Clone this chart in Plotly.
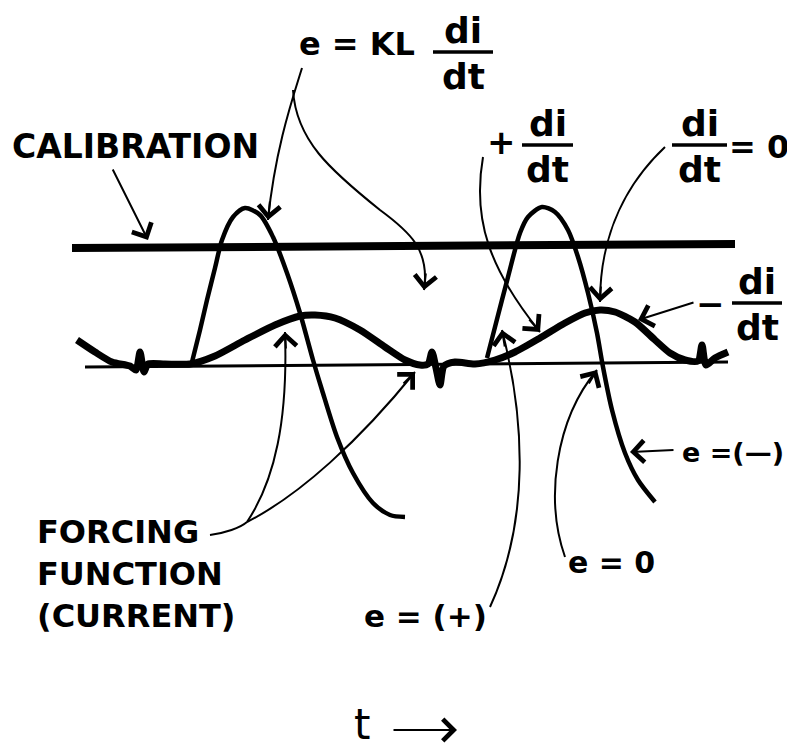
import plotly.graph_objects as go

# Traced points of the hand drawn oscillogram, (t, y) in picture units
calibration_t = [72, 735]
calibration_y = [248, 244]

zero_t = [85, 728]
zero_y = [367, 362]

current_t = [77, 95, 112, 130, 136, 140, 144, 148, 165, 190, 215, 245, 275, 300, 315,
             335, 360, 385, 405, 420, 428, 432, 436, 440, 444, 455, 475, 495, 515, 540,
             565, 585, 600, 615, 635, 655, 670, 685, 698, 702, 706, 715, 728]
current_y = [340, 352, 362, 366, 370, 352, 372, 364, 364, 364, 356, 340, 325, 316, 315,
             318, 330, 347, 360, 365, 364, 352, 368, 385, 366, 362, 364, 360, 352, 338,
             323, 313, 310, 312, 322, 340, 353, 360, 361, 345, 365, 358, 352]

emf1_t = [192, 200, 207, 215, 222, 233, 245, 260, 273, 287, 300, 313, 322, 337, 353, 373, 390, 405]
emf1_y = [362, 330, 300, 268, 240, 217, 208, 215, 237, 273, 313, 360, 390, 437, 473, 503, 515, 517]

emf2_t = [487, 495, 508, 520, 528, 542, 555, 568, 578, 588, 597, 603, 612, 625, 638, 655]
emf2_y = [358, 327, 277, 233, 217, 207, 212, 230, 257, 293, 333, 367, 410, 453, 480, 502]

W, H = 795, 753
PAD = 8  # the page body adds an 8px margin, so the figure is trimmed by that much
FONT = "DejaVu Sans"
INK = "black"

fig = go.Figure()
fig.add_trace(go.Scatter(x=calibration_t, y=calibration_y, mode="lines",
                         line=dict(color=INK, width=8)))
fig.add_trace(go.Scatter(x=zero_t, y=zero_y, mode="lines",
                         line=dict(color=INK, width=3)))
fig.add_trace(go.Scatter(x=current_t, y=current_y, mode="lines",
                         line=dict(color=INK, width=7, shape="spline", smoothing=0.7)))
for tt, yy in [(emf1_t, emf1_y), (emf2_t, emf2_y)]:
    fig.add_trace(go.Scatter(x=tt, y=yy, mode="lines",
                             line=dict(color=INK, width=4.5, shape="spline", smoothing=0.8)))

# curved leader lines
paths = [
    "M302,68 C292,100 275,150 268,220",
    "M293,90 C296,140 330,170 380,210 C410,232 430,250 424,290",
    "M483,157 C472,220 490,270 540,332",
    "M665,147 C630,180 600,230 600,302",
    "M565,557 C545,500 555,420 597,370",
    "M490,607 C530,520 525,420 502,330",
    "M210,535 C225,533 240,528 247,522",
    "M247,522 C275,480 288,420 285,332",
    "M247,522 C300,495 360,440 415,372",
]
for p in paths:
    fig.add_shape(type="path", path=p, xref="x", yref="y",
                  line=dict(color=INK, width=2))

# arrow heads (tip, tail)
arrows = [
    ((148, 240), (112, 168)),
    ((268, 220), (270, 200)),
    ((424, 290), (426, 272)),
    ((540, 332), (528, 318)),
    ((600, 302), (601, 285)),
    ((638, 320), (695, 302)),
    ((630, 452), (675, 450)),
    ((597, 370), (588, 385)),
    ((502, 330), (505, 348)),
    ((285, 332), (286, 350)),
    ((415, 372), (402, 385)),
    ((457, 730), (392, 730)),
]
for (x, y), (ax, ay) in arrows:
    fig.add_annotation(x=x, y=y, ax=ax, ay=ay, xref="x", yref="y", axref="x", ayref="y",
                       text="", showarrow=True, arrowhead=4, arrowsize=2.1,
                       arrowwidth=2, arrowcolor=INK)


def label(text, x, y, size=30, anchor="left"):
    fig.add_annotation(x=x, y=y, xref="x", yref="y", text=text, showarrow=False,
                       xanchor=anchor, yanchor="middle",
                       font=dict(family=FONT, size=size, color=INK, weight="bold"))


def fraction(x0, x1, y, size=36):
    xc = (x0 + x1) / 2
    label("di", xc, y - 22, size, "center")
    label("dt", xc, y + 24, size, "center")
    fig.add_shape(type="line", x0=x0, x1=x1, y0=y, y1=y, xref="x", yref="y",
                  line=dict(color=INK, width=3.5))


label("CALIBRATION", 10, 146, 33)
label("e = KL", 297, 44, 32)
fraction(433, 493, 52)
label("+", 485, 142, 34)
fraction(522, 573, 145)
fraction(672, 727, 145)
label("= 0", 727, 147, 32)
label("−", 694, 304, 34)
fraction(732, 782, 303)
label("FORCING", 35, 532, 32)
label("FUNCTION", 35, 574, 32)
label("(CURRENT)", 35, 616, 32)
label("e =(—)", 680, 452, 27)
label("e = 0", 566, 562, 30)
label("e = (+)", 362, 616, 31)
fig.add_annotation(x=362, y=724, xref="x", yref="y", text="t", showarrow=False,
                   font=dict(family=FONT, size=42, color=INK))

fig.update_layout(
    width=W - PAD, height=H - PAD, margin=dict(l=0, r=0, t=0, b=0),
    paper_bgcolor="white", plot_bgcolor="white", showlegend=False,
    xaxis=dict(range=[PAD, W], visible=False, fixedrange=True),
    yaxis=dict(range=[H, PAD], visible=False, fixedrange=True),
)

fig.write_html("out.html")
